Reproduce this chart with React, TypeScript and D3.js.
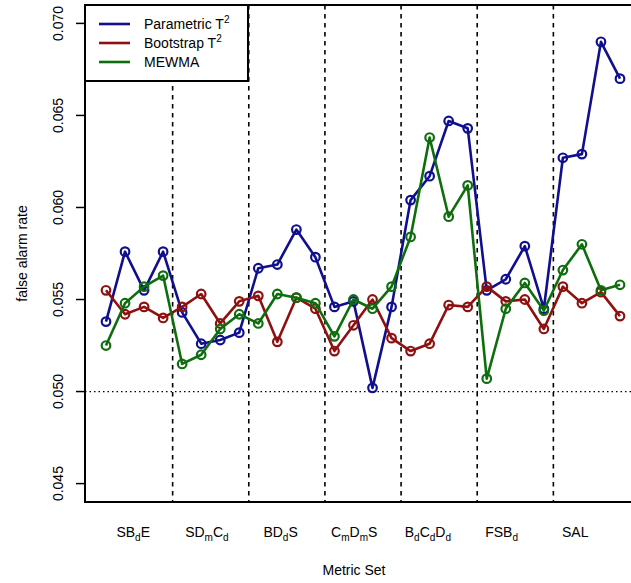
import React from "react";
import * as d3 from "d3";

const groups: { parts: [string, string][] }[] = [
  { parts: [["SB", ""], ["d", "sub"], ["E", ""]] },
  { parts: [["SD", ""], ["m", "sub"], ["C", ""], ["d", "sub"]] },
  { parts: [["BD", ""], ["d", "sub"], ["S", ""]] },
  { parts: [["C", ""], ["m", "sub"], ["D", ""], ["m", "sub"], ["S", ""]] },
  { parts: [["B", ""], ["d", "sub"], ["C", ""], ["d", "sub"], ["D", ""], ["d", "sub"]] },
  { parts: [["FSB", ""], ["d", "sub"]] },
  { parts: [["SAL", ""]] },
];

const parametric = [
  0.0538, 0.0576, 0.0555, 0.0576,
  0.0543, 0.0526, 0.0528, 0.0532,
  0.0567, 0.0569, 0.0588, 0.0573,
  0.0546, 0.0549, 0.0502, 0.0546,
  0.0604, 0.0617, 0.0647, 0.0643,
  0.0555, 0.0561, 0.0579, 0.0545,
  0.0627, 0.0629, 0.0690, 0.0670,
];
const bootstrap = [
  0.0555, 0.0542, 0.0546, 0.0540,
  0.0546, 0.0553, 0.0537, 0.0549,
  0.0552, 0.0527, 0.0551, 0.0545,
  0.0522, 0.0536, 0.0550, 0.0529,
  0.0522, 0.0526, 0.0547, 0.0546,
  0.0557, 0.0549, 0.0550, 0.0534,
  0.0557, 0.0548, 0.0554, 0.0541,
];
const mewma = [
  0.0525, 0.0548, 0.0557, 0.0563,
  0.0515, 0.0520, 0.0534, 0.0542,
  0.0537, 0.0553, 0.0551, 0.0548,
  0.0530, 0.0550, 0.0545, 0.0557,
  0.0584, 0.0638, 0.0595, 0.0612,
  0.0507, 0.0545, 0.0559, 0.0544,
  0.0566, 0.0580, 0.0555, 0.0558,
];
const yTicks = [0.045, 0.05, 0.055, 0.06, 0.065, 0.07];
// label anchor positions in index units (first and last group label)
const labelFirst = 2.43;
const labelLast = 25.65;

const series = [
  { name: "Parametric T", sup: "2", values: parametric, color: "#10108f" },
  { name: "Bootstrap T", sup: "2", values: bootstrap, color: "#8f1010" },
  { name: "MEWMA", sup: "", values: mewma, color: "#0e6e0e" },
];

const W = 631, H = 583;
const plotL = 85, plotT = 5, plotB = 502;
const n = parametric.length;
const perGroup = 4;

export default function App() {
  const x = d3.scaleLinear().domain([1, n]).range([106, 620]);
  const xExp = 0.04 * (n - 1);
  const plotR = x(n + xExp);
  const y = d3.scaleLinear().domain([0.044, 0.071]).range([plotB, plotT]);
  const line = d3.line<number>().x((_, i) => x(i + 1)).y((d) => y(d));
  const labelPos = d3.scaleLinear().domain([0, groups.length - 1]).range([labelFirst, labelLast]);
  const font = "'Liberation Sans', Arial, sans-serif";

  return (
    <div style={{ position: "absolute", left: 0, top: 0 }}>
      <svg width={W} height={H} style={{ display: "block", background: "#fff" }} fontFamily={font}>
        <defs>
          <clipPath id="plotclip">
            <rect x={plotL} y={plotT} width={plotR - plotL} height={plotB - plotT} />
          </clipPath>
        </defs>
        {/* reference lines */}
        <line x1={plotL} x2={plotR} y1={y(0.05)} y2={y(0.05)} stroke="#000" strokeWidth={1.2} strokeDasharray="1.5,3" />
        {groups.slice(1).map((_, gi) => {
          const xv = x((gi + 1) * perGroup + 0.5);
          return (
            <line key={gi} x1={xv} x2={xv} y1={plotT} y2={plotB} stroke="#000" strokeWidth={1.6} strokeDasharray="4.5,4.5" />
          );
        })}
        <g clipPath="url(#plotclip)">
          {series.map((s) => (
            <g key={s.name}>
              <path d={line(s.values) || ""} fill="none" stroke={s.color} strokeWidth={2.6} strokeLinejoin="round" />
              {s.values.map((v, i) => (
                <circle key={i} cx={x(i + 1)} cy={y(v)} r={4.3} fill="none" stroke={s.color} strokeWidth={2.2} />
              ))}
            </g>
          ))}
        </g>
        {/* legend */}
        <rect x={plotL} y={plotT} width={248 - plotL} height={81 - plotT} fill="#fff" stroke="#000" strokeWidth={2} />
        {series.map((s, i) => {
          const ly = 24 + i * 19;
          return (
            <g key={s.name}>
              <line x1={99} x2={130} y1={ly} y2={ly} stroke={s.color} strokeWidth={2.6} />
              <text x={144} y={ly + 5} fontSize={14} fill="#000">
                {s.name}
                {s.sup && (
                  <tspan dy={-6} fontSize={10}>{s.sup}</tspan>
                )}
              </text>
            </g>
          );
        })}
        {/* frame */}
        <rect x={plotL} y={plotT} width={plotR - plotL} height={plotB - plotT} fill="none" stroke="#000" strokeWidth={2} />
        {/* y axis */}
        {yTicks.map((t) => (
          <g key={t}>
            <line x1={76} x2={plotL} y1={y(t)} y2={y(t)} stroke="#000" strokeWidth={1.5} />
            <text
              transform={`translate(63,${y(t)}) rotate(-90)`}
              textAnchor="middle"
              fontSize={14}
              fill="#000"
            >
              {d3.format(".3f")(t)}
            </text>
          </g>
        ))}
        <text transform={`translate(27,${(plotT + plotB) / 2}) rotate(-90)`} textAnchor="middle" fontSize={14} fill="#000">
          false alarm rate
        </text>
        {/* x labels */}
        {groups.map((g, gi) => {
          const cx = x(labelPos(gi));
          return (
            <text key={gi} x={cx} y={537} textAnchor="middle" fontSize={14} fill="#000">
              {g.parts.map(([t, k], j) => {
                const prev = j > 0 ? g.parts[j - 1][1] : "";
                let dy = 0;
                if (k === "sub" && prev !== "sub") dy = 4;
                if (k !== "sub" && prev === "sub") dy = -4;
                return (
                  <tspan key={j} dy={dy} fontSize={k === "sub" ? 10 : 14}>
                    {t}
                  </tspan>
                );
              })}
            </text>
          );
        })}
        <text x={354} y={575} textAnchor="middle" fontSize={14} fill="#000">
          Metric Set
        </text>
      </svg>
    </div>
  );
}
